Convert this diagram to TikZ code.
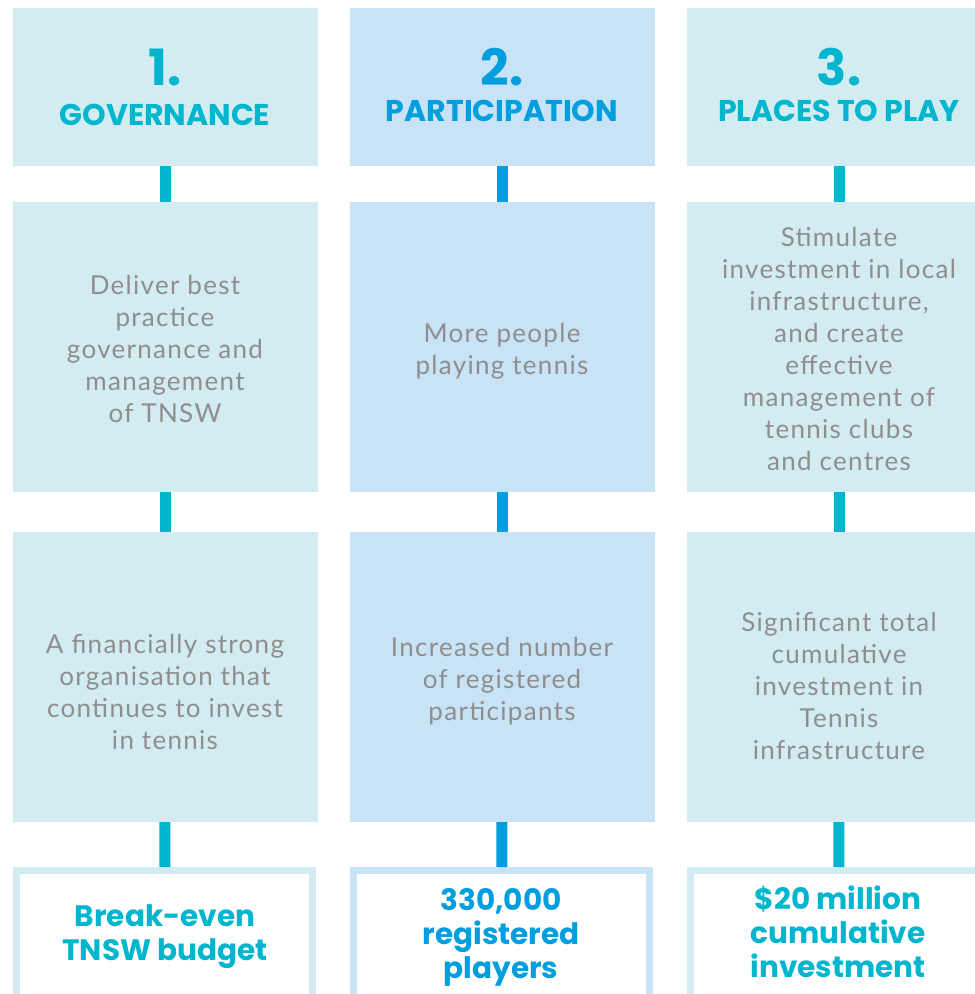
\documentclass[tikz,border=0pt]{standalone}
\usepackage{fontspec}
\setmainfont{Lato}[LetterSpace=5]
\newfontfamily\headfont{Poppins}
\usepackage{tikz}
\usetikzlibrary
  {
    positioning,              % place nodes relative to other nodes
    calc,
  }

\definecolor{tealtext}{HTML}{00B5CE}
\definecolor{bluetext}{HTML}{009EDF}
\definecolor{tealfill}{HTML}{D3ECF1}
\definecolor{bluefill}{HTML}{C8E2F6}
\definecolor{bodygrey}{HTML}{8E8E8E}

\begin{document}
\begin{tikzpicture}
    [
      x=1pt, y=-1pt,
      box/.style=
        {
          rectangle,
          inner sep=0pt,
          minimum width=305pt,
        },
      headbox/.style=
        {
          box,
          minimum height=158pt,
        },
      textbox/.style=
        {
          box,
          minimum height=290pt,
        },
      targetbox/.style=
        {
          rectangle,
          inner sep=0pt,
          fill=white,
          line width=7pt,
          minimum width=296pt,
          minimum height=170pt,
        },
      number/.style=
        {
          font=\headfont\bfseries\fontsize{50}{50}\selectfont,
        },
      title/.style=
        {
          font=\headfont\bfseries\fontsize{30}{34}\selectfont,
        },
      body/.style=
        {
          align=center,
          text=bodygrey,
          font=\fontsize{26}{32}\selectfont,
        },
      target/.style=
        {
          align=center,
          font=\headfont\bfseries\fontsize{29.5}{34}\selectfont,
        },
      link/.style=
        {
          line width=11pt,
        },
    ]
    \useasboundingbox (0,0) rectangle (975,994);

    % column 1
    \node[headbox, fill=tealfill]   (gov head)    at (165.5, 87) {};
    \node[textbox, fill=tealfill]   (gov aim)     at (165.5,347) {};
    \node[textbox, fill=tealfill]   (gov outcome) at (165.5,677) {};
    \node[targetbox, draw=tealfill] (gov target)  at (164.5,955.5) {};
    \draw[link, tealtext] (gov head) -- (gov aim);
    \draw[link, tealtext] (gov aim) -- (gov outcome);
    \draw[link, tealtext] (gov outcome) -- (gov target);
    \node[number, text=tealtext] (gov num)   at (165, 67) {1.};
    \node[title, text=tealtext]  (gov title) at (165,115) {GOVERNANCE};
    \node[body] (gov aim text) at (165,349)
      {Deliver best\\practice\\governance and\\management\\of TNSW};
    \node[body] (gov outcome text) at (165,692)
      {A financially strong\\organisation that\\continues to invest\\in tennis};
    \node[target, text=tealtext] (gov target text) at (165,937)
      {Break-even\\TNSW budget};

    % column 2
    \node[headbox, fill=bluefill]   (part head)    at (502.5, 87) {};
    \node[textbox, fill=bluefill]   (part aim)     at (502.5,347) {};
    \node[textbox, fill=bluefill]   (part outcome) at (502.5,677) {};
    \node[targetbox, draw=bluefill] (part target)  at (501.5,955.5) {};
    \draw[link, bluetext] (part head) -- (part aim);
    \draw[link, bluetext] (part aim) -- (part outcome);
    \draw[link, bluetext] (part outcome) -- (part target);
    \node[number, text=bluetext] (part num)   at (502, 67) {2.};
    \node[title, text=bluetext]  (part title) at (502,111) {PARTICIPATION};
    \node[body] (part aim text) at (502,351)
      {More people\\playing tennis};
    \node[body] (part outcome text) at (502,681)
      {Increased number\\of registered\\participants};
    \node[target, text=bluetext] (part target text) at (501,937)
      {330,000\\registered\\players};

    % column 3
    \node[headbox, fill=tealfill]   (place head)    at (839.5, 87) {};
    \node[textbox, fill=tealfill]   (place aim)     at (839.5,347) {};
    \node[textbox, fill=tealfill]   (place outcome) at (839.5,677) {};
    \node[targetbox, draw=tealfill] (place target)  at (838.5,955.5) {};
    \draw[link, tealtext] (place head) -- (place aim);
    \draw[link, tealtext] (place aim) -- (place outcome);
    \draw[link, tealtext] (place outcome) -- (place target);
    \node[number, text=tealtext] (place num)   at (839, 67) {3.};
    \node[title, text=tealtext]  (place title) at (839,111) {PLACES TO PLAY};
    \node[body] (place aim text) at (839,349)
      {Stimulate\\investment in local\\infrastructure,\\and create\\effective\\management of\\tennis clubs\\and centres};
    \node[body] (place outcome text) at (839,686)
      {Significant total\\cumulative\\investment in\\Tennis\\infrastructure};
    \node[target, text=tealtext] (place target text) at (838,932)
      {\$20 million\\cumulative\\investment};
  \end{tikzpicture}
\end{document}
